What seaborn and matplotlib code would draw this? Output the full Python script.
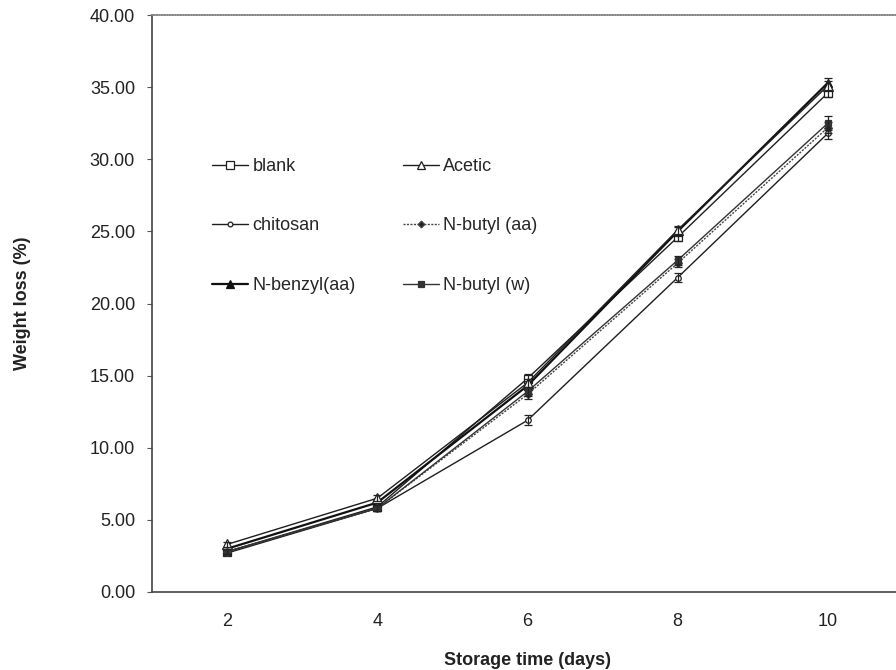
import matplotlib
matplotlib.use("Agg")
import matplotlib.pyplot as plt
import seaborn as sns
import pandas as pd
import numpy as np
from matplotlib.ticker import FixedLocator

days = [2, 4, 6, 8, 10]
series_names = ["blank", "chitosan", "N-benzyl(aa)", "Acetic", "N-butyl (aa)", "N-butyl (w)"]
blank = [2.8, 5.9, 14.8, 24.6, 34.6]
chitosan = [2.7, 5.8, 11.9, 21.8, 31.8]
n_benzyl_aa = [3.0, 6.2, 14.3, 25.0, 35.3]
acetic = [3.3, 6.5, 14.5, 25.1, 35.1]
n_butyl_aa = [2.8, 5.8, 13.7, 22.8, 32.2]
n_butyl_w = [2.8, 5.8, 13.9, 23.0, 32.5]
err_blank = [0.15, 0.2, 0.3, 0.3, 0.3]
err_chitosan = [0.15, 0.2, 0.35, 0.3, 0.4]
err_n_benzyl_aa = [0.15, 0.2, 0.3, 0.3, 0.3]
err_acetic = [0.15, 0.2, 0.3, 0.3, 0.3]
err_n_butyl_aa = [0.15, 0.2, 0.3, 0.3, 0.4]
err_n_butyl_w = [0.15, 0.2, 0.3, 0.3, 0.5]
y_ticks = [0, 5, 10, 15, 20, 25, 30, 35, 40]

values = [blank, chitosan, n_benzyl_aa, acetic, n_butyl_aa, n_butyl_w]
errors = [err_blank, err_chitosan, err_n_benzyl_aa, err_acetic, err_n_butyl_aa, err_n_butyl_w]

rows = []
for name, vals, errs in zip(series_names, values, errors):
    for d, v, e in zip(days, vals, errs):
        rows.append({"day": d, "loss": v, "err": e, "series": name})
df = pd.DataFrame(rows)

sns.set_theme(style="white")
plt.rcParams['font.family'] = ['Liberation Sans', 'DejaVu Sans']

fig = plt.figure(figsize=(8.96, 6.7), dpi=100)
ax = fig.add_axes([152/896, 1-592/670, (903-152)/896, (592-15)/670])

styles = {
    "blank": dict(marker="s", mfc="white", ms=6, ls="-", color="#1e1e1e", lw=1.0),
    "chitosan": dict(marker="o", mfc="white", ms=4, ls="-", color="#1e1e1e", lw=1.0),
    "N-benzyl(aa)": dict(marker="^", mfc="#111111", ms=6, ls="-", color="#111111", lw=1.6),
    "Acetic": dict(marker="^", mfc="white", ms=7, ls="-", color="#1e1e1e", lw=1.0),
    "N-butyl (aa)": dict(marker="D", mfc="#222222", ms=4, ls=(0, (1.5, 1)), color="#444444", lw=1.0),
    "N-butyl (w)": dict(marker="s", mfc="#333333", ms=5, ls="-", color="#333333", lw=1.0),
}

for name in series_names:
    sub = df[df["series"] == name]
    st = styles[name]
    sns.lineplot(data=sub, x="day", y="loss", ax=ax, color=st["color"], lw=st["lw"],
                 linestyle=st["ls"], marker=st["marker"], markersize=st["ms"],
                 markerfacecolor=st["mfc"], markeredgecolor=st["color"], markeredgewidth=0.9,
                 label=name, errorbar=None)
    ax.errorbar(sub["day"], sub["loss"], yerr=sub["err"], fmt="none", ecolor="#222222",
                elinewidth=0.9, capsize=3, capthick=0.9)

ax.set_xlim(1, 11)
ax.set_ylim(0, 40)
ax.set_yticks(y_ticks)
ax.set_yticklabels([f"{v:.2f}" for v in y_ticks])
ax.set_xticks(days)
ax.set_xticklabels([str(d) for d in days])
ax.xaxis.set_minor_locator(FixedLocator([3, 5, 7, 9]))
ax.tick_params(axis="x", which="major", length=0, labelsize=13, pad=15, labelcolor="#222222")
ax.tick_params(axis="x", which="minor", length=4, width=0.8, direction="in", color="#555555")
ax.tick_params(axis="y", which="major", length=3.6, width=0.8, direction="out", labelsize=13,
               pad=8.6, color="#555555", labelcolor="#222222", left=True)

for s in ["left", "bottom"]:
    ax.spines[s].set_color("#444444")
    ax.spines[s].set_linewidth(1.2)
ax.spines["top"].set_color("#888888")
ax.spines["top"].set_linewidth(1.2)
ax.spines["top"].set_linestyle((0, (1, 0.6)))
ax.spines["right"].set_visible(False)

ax.set_xlabel("Storage time (days)", fontsize=13, fontweight="bold", labelpad=16, color="#222222")
ax.set_ylabel("Weight loss (%)", fontsize=13, fontweight="bold", labelpad=42, color="#222222")

leg = ax.legend(loc="upper left", bbox_to_anchor=((212-152)/751, (592-158)/577), ncol=2,
                frameon=False, fontsize=13, handlelength=2.0, handletextpad=0.25,
                columnspacing=2.6, labelspacing=2.35, borderaxespad=0, borderpad=0,
                markerscale=0.85)

fig.savefig("out.png", dpi=100, facecolor="white")
